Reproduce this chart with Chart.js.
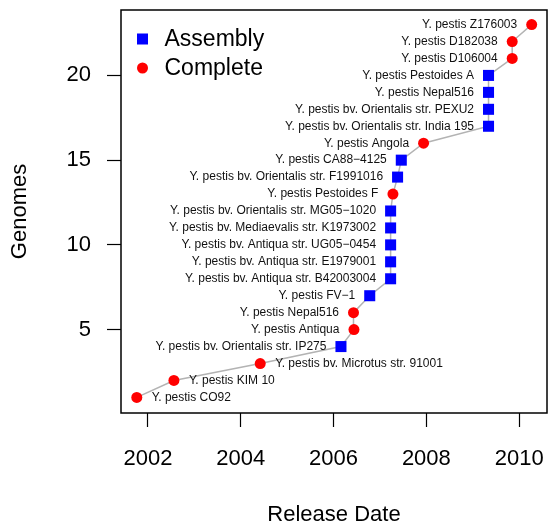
<!DOCTYPE html>
<html lang="en">
<head>
    <meta charset="UTF-8">
    <title>Genomes by Release Date</title>
    <script src="https://cdn.jsdelivr.net/npm/chart.js"></script>
    <style>
        html, body { margin: 0; padding: 0; background: #fff; }
        #wrap { width: 548px; height: 524px; }
    </style>
</head>
<body>
<div id="wrap"><canvas id="genomeChart"></canvas></div>
<script>
    // strain names in release order
    const strains = [
        "Y. pestis CO92",
        "Y. pestis KIM 10",
        "Y. pestis bv. Microtus str. 91001",
        "Y. pestis bv. Orientalis str. IP275",
        "Y. pestis Antiqua",
        "Y. pestis Nepal516",
        "Y. pestis FV\u22121",
        "Y. pestis bv. Antiqua str. B42003004",
        "Y. pestis bv. Antiqua str. E1979001",
        "Y. pestis bv. Antiqua str. UG05\u22120454",
        "Y. pestis bv. Mediaevalis str. K1973002",
        "Y. pestis bv. Orientalis str. MG05\u22121020",
        "Y. pestis Pestoides F",
        "Y. pestis bv. Orientalis str. F1991016",
        "Y. pestis CA88\u22124125",
        "Y. pestis Angola",
        "Y. pestis bv. Orientalis str. India 195",
        "Y. pestis bv. Orientalis str. PEXU2",
        "Y. pestis Nepal516",
        "Y. pestis Pestoides A",
        "Y. pestis D106004",
        "Y. pestis D182038",
        "Y. pestis Z176003"
    ];
    // release date as decimal year
    const releaseDates = [2001.76, 2002.56, 2004.42, 2006.16, 2006.44, 2006.43, 2006.78,
        2007.23, 2007.23, 2007.23, 2007.23, 2007.23, 2007.28, 2007.38, 2007.46,
        2007.94, 2009.34, 2009.34, 2009.34, 2009.34, 2009.85, 2009.85, 2010.27];
    // cumulative genome count
    const genomes = [1, 2, 3, 4, 5, 6, 7, 8, 9, 10, 11, 12, 13, 14, 15, 16, 17, 18, 19, 20, 21, 22, 23];
    // C = complete, A = assembly
    const status = ["C", "C", "C", "A", "C", "C", "A", "A", "A", "A", "A", "A", "C",
        "A", "A", "C", "A", "A", "A", "A", "C", "C", "C"];
    // label to the right (R) or left (L) of the point
    const labelSide = ["R", "R", "R", "L", "L", "L", "L", "L", "L", "L", "L", "L", "L",
        "L", "L", "L", "L", "L", "L", "L", "L", "L", "L"];
    const xTicks = [2002, 2004, 2006, 2008, 2010];
    const yTicks = [5, 10, 15, 20];

    const FONT = "'Liberation Sans', Arial, Helvetica, sans-serif";

    const allPts = releaseDates.map((d, i) => ({x: d, y: genomes[i]}));
    const assemblyPts = allPts.filter((p, i) => status[i] === "A");
    const completePts = allPts.filter((p, i) => status[i] === "C");

    // no extra padding for end tick labels
    function noPad(s) {
        s.paddingTop = 0; s.paddingBottom = 0;
        s.paddingLeft = 0; s.paddingRight = 0;
    }

    const frameAndLabels = {
        id: 'frameAndLabels',
        afterDatasetsDraw(chart) {
            const ctx = chart.ctx;
            const a = chart.chartArea;
            ctx.save();
            // plot box
            ctx.strokeStyle = '#000';
            ctx.lineWidth = 1.5;
            ctx.strokeRect(a.left, a.top, a.right - a.left, a.bottom - a.top);

            // point labels
            const meta = chart.getDatasetMeta(0);
            ctx.font = '12px ' + FONT;
            ctx.fillStyle = '#111';
            ctx.textBaseline = 'middle';
            meta.data.forEach((el, i) => {
                if (labelSide[i] === 'R') {
                    ctx.textAlign = 'left';
                    ctx.fillText(strains[i], el.x + 15, el.y);
                } else {
                    ctx.textAlign = 'right';
                    ctx.fillText(strains[i], el.x - 14.5, el.y);
                }
            });

            // legend
            const lx = a.left + 21.5, ly = a.top + 29;
            ctx.fillStyle = '#0000ff';
            ctx.fillRect(lx - 5.5, ly - 5.5, 11, 11);
            ctx.fillStyle = '#ff0000';
            ctx.beginPath();
            ctx.arc(lx, ly + 29, 5.5, 0, Math.PI * 2);
            ctx.fill();
            ctx.fillStyle = '#000';
            ctx.textAlign = 'left';
            ctx.font = '23px ' + FONT;
            ctx.fillText('Assembly', lx + 22, ly + 1);
            ctx.fillText('Complete', lx + 22, ly + 30);
            ctx.restore();
        }
    };

    const ctx = document.getElementById('genomeChart').getContext('2d');
    const chart = new Chart(ctx, {
        type: 'scatter',
        data: {
            datasets: [{
                label: 'all',
                data: allPts,
                showLine: true,
                borderColor: '#b3b3b3',
                borderWidth: 1.5,
                pointRadius: 0,
                order: 3
            }, {
                label: 'Assembly',
                data: assemblyPts,
                pointStyle: 'rect',
                pointRadius: 7.8,
                backgroundColor: '#0000ff',
                borderWidth: 0,
                order: 1
            }, {
                label: 'Complete',
                data: completePts,
                pointStyle: 'circle',
                pointRadius: 5.5,
                backgroundColor: '#ff0000',
                borderWidth: 0,
                order: 2
            }]
        },
        options: {
            responsive: true,
            maintainAspectRatio: false,
            animation: false,
            layout: {autoPadding: false, padding: {top: 10, right: 1, left: 0, bottom: 0}},
            plugins: {legend: {display: false}, tooltip: {enabled: false}},
            scales: {
                x: {
                    type: 'linear',
                    min: 2001.42,
                    max: 2010.6,
                    afterFit: s => { s.height = 111; noPad(s); },
                    afterBuildTicks: s => { s.ticks = xTicks.map(v => ({value: v})); },
                    grid: {drawOnChartArea: false, drawTicks: true, tickLength: 14, color: '#000', tickWidth: 1.2},
                    border: {display: false},
                    ticks: {
                        color: '#000',
                        padding: 19,
                        maxRotation: 0,
                        autoSkip: false,
                        font: {family: FONT, size: 22},
                        callback: v => String(v)
                    },
                    title: {
                        display: true,
                        text: 'Release Date',
                        color: '#000',
                        font: {family: FONT, size: 22, lineHeight: 1},
                        padding: {top: 0, bottom: -2}
                    }
                },
                y: {
                    type: 'linear',
                    min: 0.08,
                    max: 23.86,
                    afterFit: s => { s.width = 121; noPad(s); },
                    afterBuildTicks: s => { s.ticks = yTicks.map(v => ({value: v})); },
                    grid: {drawOnChartArea: false, drawTicks: true, tickLength: 14, color: '#000', tickWidth: 1.2},
                    border: {display: false},
                    ticks: {
                        color: '#000',
                        padding: 16,
                        autoSkip: false,
                        font: {family: FONT, size: 22}
                    },
                    title: {
                        display: true,
                        text: 'Genomes',
                        color: '#000',
                        font: {family: FONT, size: 22, lineHeight: 1},
                        padding: {top: 9, bottom: 0}
                    }
                }
            }
        },
        plugins: [frameAndLabels]
    });
</script>
</body>
</html>
